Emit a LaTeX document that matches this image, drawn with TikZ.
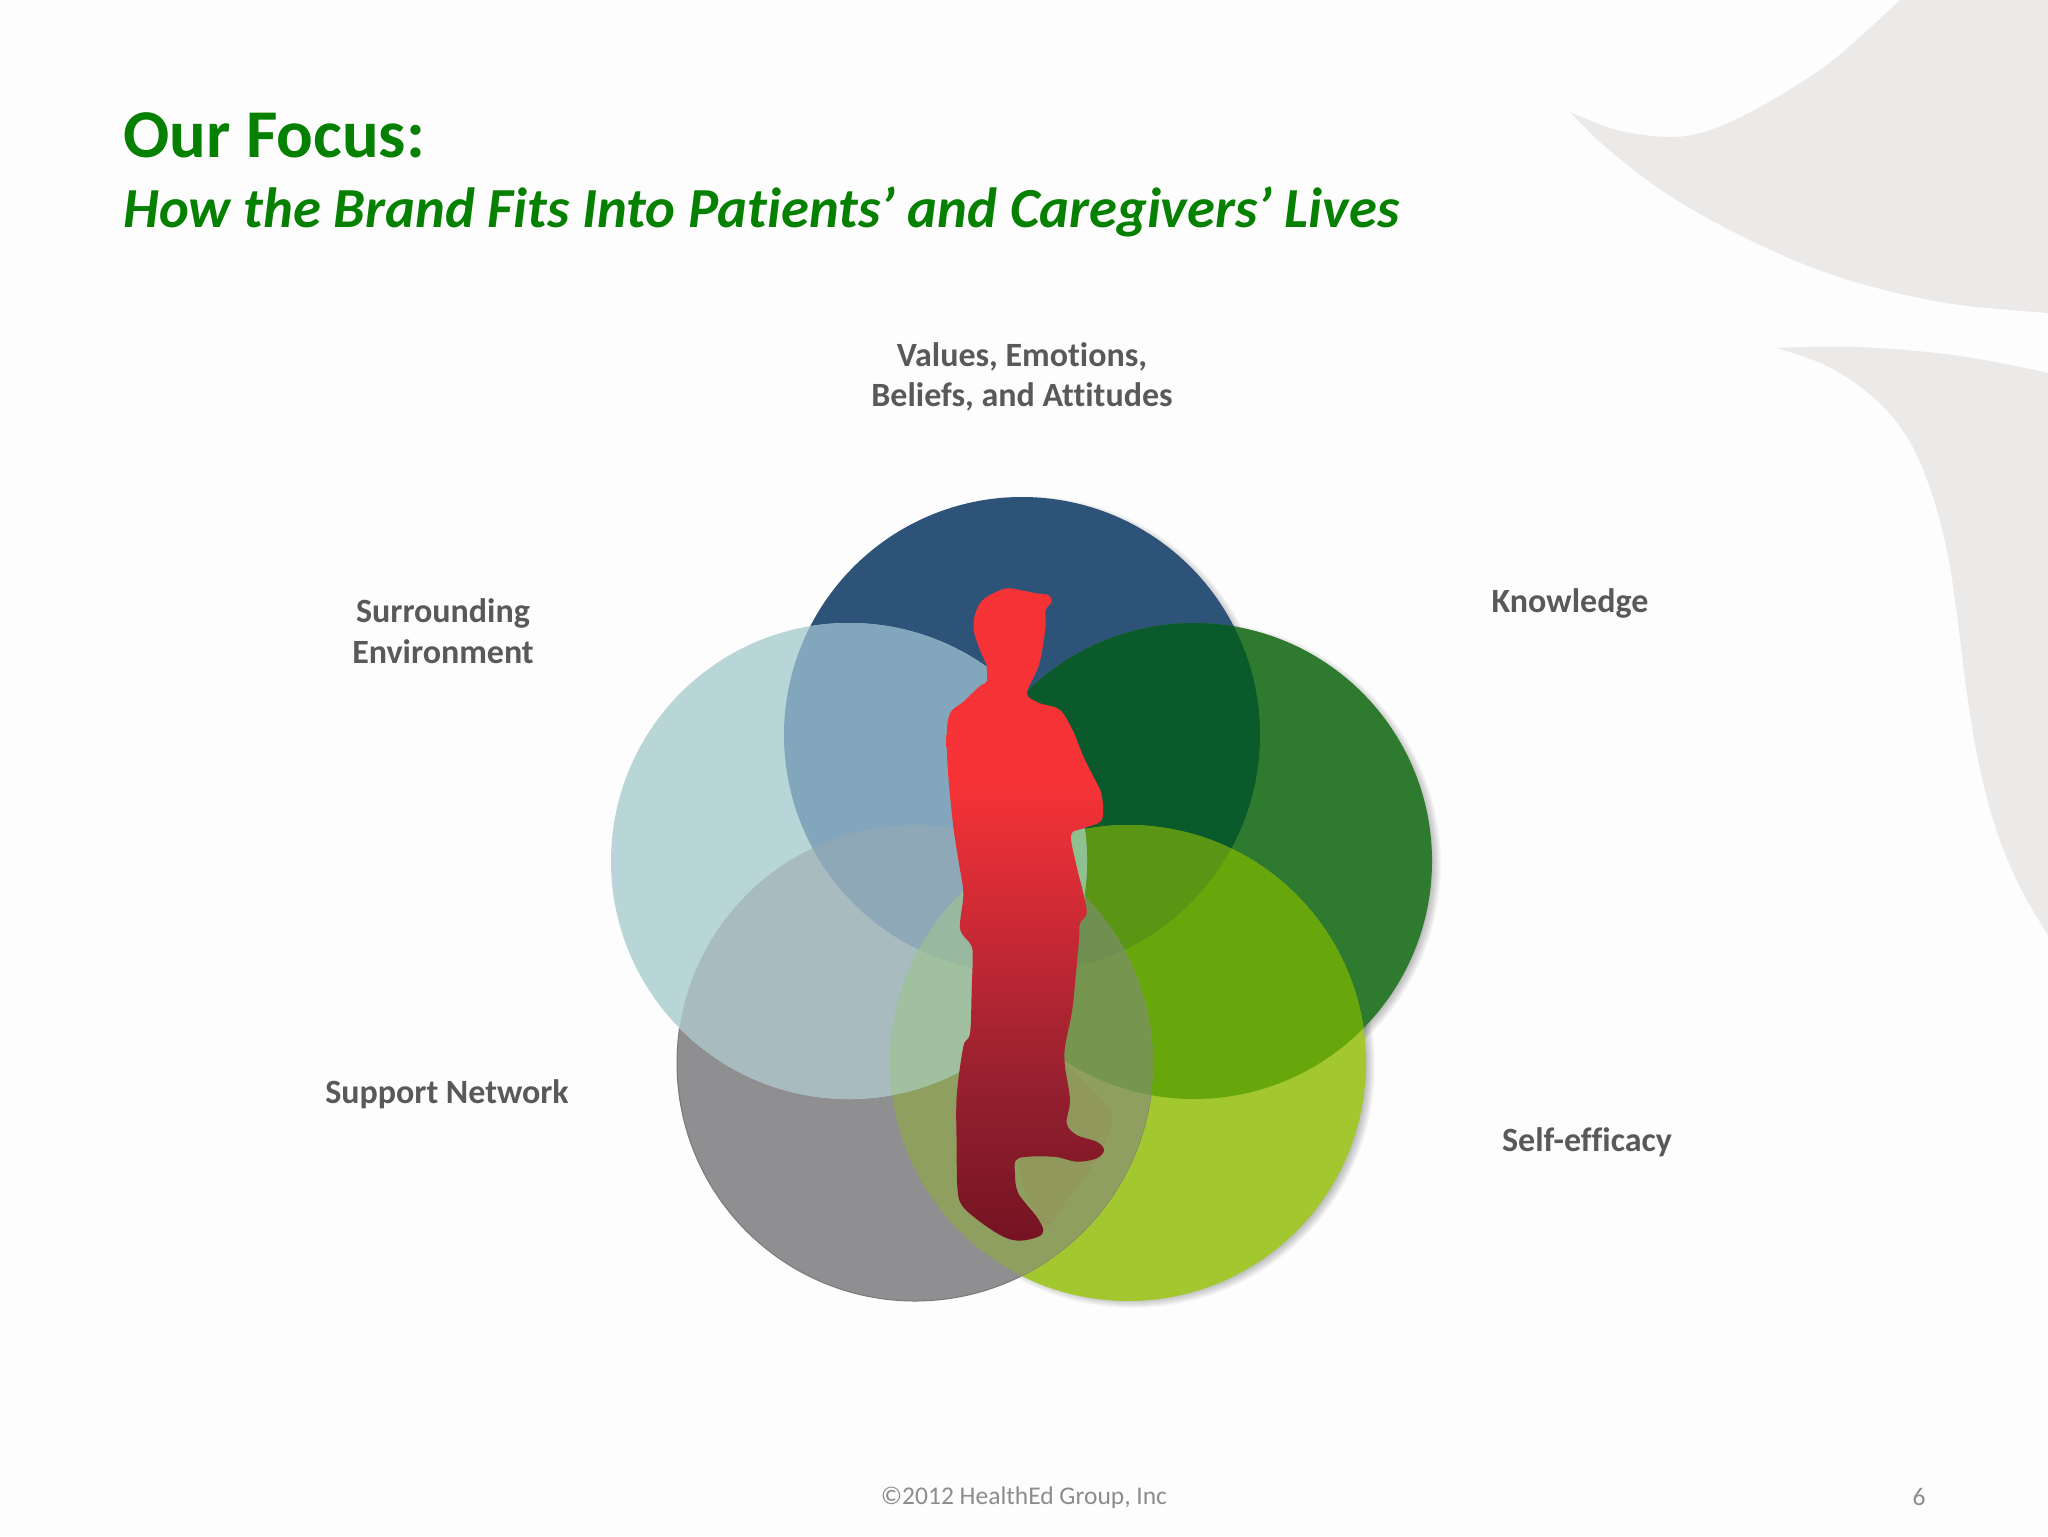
\documentclass[tikz,border=0pt]{standalone}
\usepackage{fontspec}
\setmainfont[Ligatures=NoCommon]{Carlito}
\definecolor{bgc}{HTML}{FEFDFE}
\definecolor{swoosh}{HTML}{ECEAE9}
\definecolor{titleg}{HTML}{068000}
\definecolor{labelc}{HTML}{58595B}
\definecolor{footc}{HTML}{8C8C8C}
\definecolor{cB}{HTML}{2D5478}
\definecolor{cT}{HTML}{B8D5D8}
\definecolor{cG}{HTML}{2E7B30}
\definecolor{cL}{HTML}{A2C72F}
\definecolor{cY}{HTML}{8F8E90}
\definecolor{cGB}{HTML}{0B5A2C}
\definecolor{cLG}{HTML}{67A70B}
\definecolor{cLGB}{HTML}{5A9614}
\definecolor{cYL}{HTML}{8F9F60}
\definecolor{cYLG}{HTML}{76954F}
\definecolor{cYLGB}{HTML}{6F9050}
\definecolor{cTY}{HTML}{A8BCC0}
\definecolor{cTB}{HTML}{82A6BC}
\definecolor{cTBY}{HTML}{8FA8B8}
\definecolor{cTL}{HTML}{8FC090}
\definecolor{cTYL}{HTML}{A0C0A0}
\definecolor{cTBYL}{HTML}{98B8A0}
\definecolor{cleg}{HTML}{93925A}
\definecolor{pa}{HTML}{F53337}
\definecolor{pb}{HTML}{CE2A35}
\definecolor{pc}{HTML}{96202F}
\definecolor{pd}{HTML}{741322}
\pgfdeclareverticalshading{personshade}{100bp}{color(0bp)=(pd); color(25bp)=(pd); color(37bp)=(pc); color(50bp)=(pb); color(60bp)=(pa); color(100bp)=(pa)}
\newcommand\pB{(1022,735) circle (238)}
\newcommand\pT{(849,861) circle (238)}
\newcommand\pG{(1194,861) circle (238)}
\newcommand\pL{(1128,1063) circle (238)}
\newcommand\pY{(915,1063) circle (238)}
\newcommand\rgnA[3]{\begin{scope}\clip #1;\fill[#3] #2;\end{scope}}
\newcommand\rgnB[4]{\begin{scope}\clip #1;\clip #2;\fill[#4] #3;\end{scope}}
\newcommand\rgnC[5]{\begin{scope}\clip #1;\clip #2;\clip #3;\fill[#5] #4;\end{scope}}
\newcommand\shadowof[1]{\foreach \r in {232,233,234,235,236,237,238,239,240,241,242}{\fill[black,opacity=.028] ([shift={(5,3)}]#1) circle (\r);}}
\tikzset{
  titletext/.style={anchor=base west,text=titleg,inner sep=0pt,font=\fontsize{34.2}{36}\selectfont\bfseries},
  subtext/.style={anchor=base west,text=titleg,inner sep=0pt,font=\fontsize{28.3}{30}\selectfont\bfseries\itshape},
  lbl/.style={align=center,text=labelc,inner sep=0pt,font=\fontsize{17}{20.25}\selectfont\bfseries},
  foot/.style={text=footc,inner sep=0pt,font=\fontsize{12.75}{14}\selectfont},
}
\begin{document}
\begin{tikzpicture}[x=.5pt,y=-.5pt]
\useasboundingbox (0,0) rectangle (2048,1536);
\fill[bgc] (0,0) rectangle (2048,1536);
% background swooshes
\fill[swoosh] plot[smooth,tension=.6] coordinates {(1570,112) (1617,130) (1670,137) (1710,130) (1760,107) (1820,70) (1860,37) (1900,0)} -- (2048,0) -- plot[smooth,tension=.6] coordinates {(2048,313) (1960,305) (1893,292) (1827,273) (1760,245) (1693,210) (1643,177) (1600,142) (1570,112)} -- cycle;
\fill[swoosh] plot[smooth,tension=.6] coordinates {(1777,348) (1860,347) (1960,356) (2048,373)} -- plot[smooth,tension=.6] coordinates {(2048,935) (2020,887) (1997,832) (1980,769) (1967,694) (1957,615) (1947,551) (1930,488) (1907,437) (1873,397) (1827,366) (1777,348)} -- cycle;
% shadows
\shadowof{1022,735}
\shadowof{1194,861}
\shadowof{1128,1063}
% single circles
\fill[cB] \pB;
\fill[cG] \pG;
\fill[cL] \pL;
\fill[cY] \pY;
\draw[cY!85!black,line width=.5pt] \pY;
\fill[cT] \pT;
% overlaps
\rgnA{\pB}{\pG}{cGB}
\rgnA{\pL}{\pG}{cLG}
\rgnB{\pL}{\pG}{\pB}{cLGB}
\rgnA{\pY}{\pL}{cYL}
\rgnB{\pY}{\pL}{\pG}{cYLG}
\rgnC{\pY}{\pL}{\pG}{\pB}{cYLGB}
\rgnA{\pT}{\pY}{cTY}
\rgnA{\pT}{\pB}{cTB}
\rgnB{\pT}{\pB}{\pY}{cTBY}
\rgnA{\pT}{\pL}{cTL}
\rgnB{\pT}{\pY}{\pL}{cTYL}
\rgnC{\pT}{\pB}{\pY}{\pL}{cTBYL}
% person and the shadow between the legs
\begin{scope}[shift={(880,560)},x=.16667pt,y=-.16667pt]
\fill[cleg,opacity=.5] plot[smooth,tension=.5] coordinates {(555,1510) (640,1590) (690,1650) (690,1710) (650,1800) (560,1920) (500,2000) (430,1880) (420,1760) (540,1680)} -- cycle;
\path[shading=personshade] plot[smooth,tension=.55] coordinates {
(320,315) (300,270) (283,220) (282,175) (300,130) (330,105) (380,85) (430,92) (470,100) (505,105) (515,125) (497,150) (497,190) (490,250) (475,320) (445,385) (445,410) (480,430) (540,450) (580,515) (610,590) (640,650) (665,705) (665,780) (610,805) (573,825) (590,920) (610,1000) (620,1060) (600,1090) (597,1140) (585,1270) (575,1360) (555,1460) (555,1520) (570,1620) (560,1690) (590,1725) (650,1745) (672,1770) (650,1795) (590,1805) (520,1790) (415,1795) (405,1840) (415,1900) (470,1970) (490,2010) (475,2030) (420,2042) (370,2030) (300,1985) (245,1935) (232,1880) (230,1760) (230,1610) (250,1460) (270,1420) (275,1290) (278,1180) (270,1150) (240,1105) (250,1000) (235,900) (220,800) (205,650) (200,530) (210,460) (250,425) (300,378) (320,365) (320,315)} -- cycle;
\end{scope}
% texts
\node[titletext] (title) at (123,157) {Our Focus:};
\node[subtext] (subtitle) at (123,227) {How the Brand Fits Into Patients’ and Caregivers’ Lives};
\node[lbl] (values) at (1022,377) {Values, Emotions,\\Beliefs, and Attitudes};
\node[lbl] (env) at (443,631) {Surrounding\\Environment};
\node[lbl] (know) at (1570,603) {Knowledge};
\node[lbl] (support) at (447,1094) {Support Network};
\node[lbl] (self) at (1587,1142) {Self-efficacy};
\node[foot] (copy) at (1024,1498) {©2012 HealthEd Group, Inc};
\node[foot] (page) at (1919,1497) {6};
\end{tikzpicture}
\end{document}
